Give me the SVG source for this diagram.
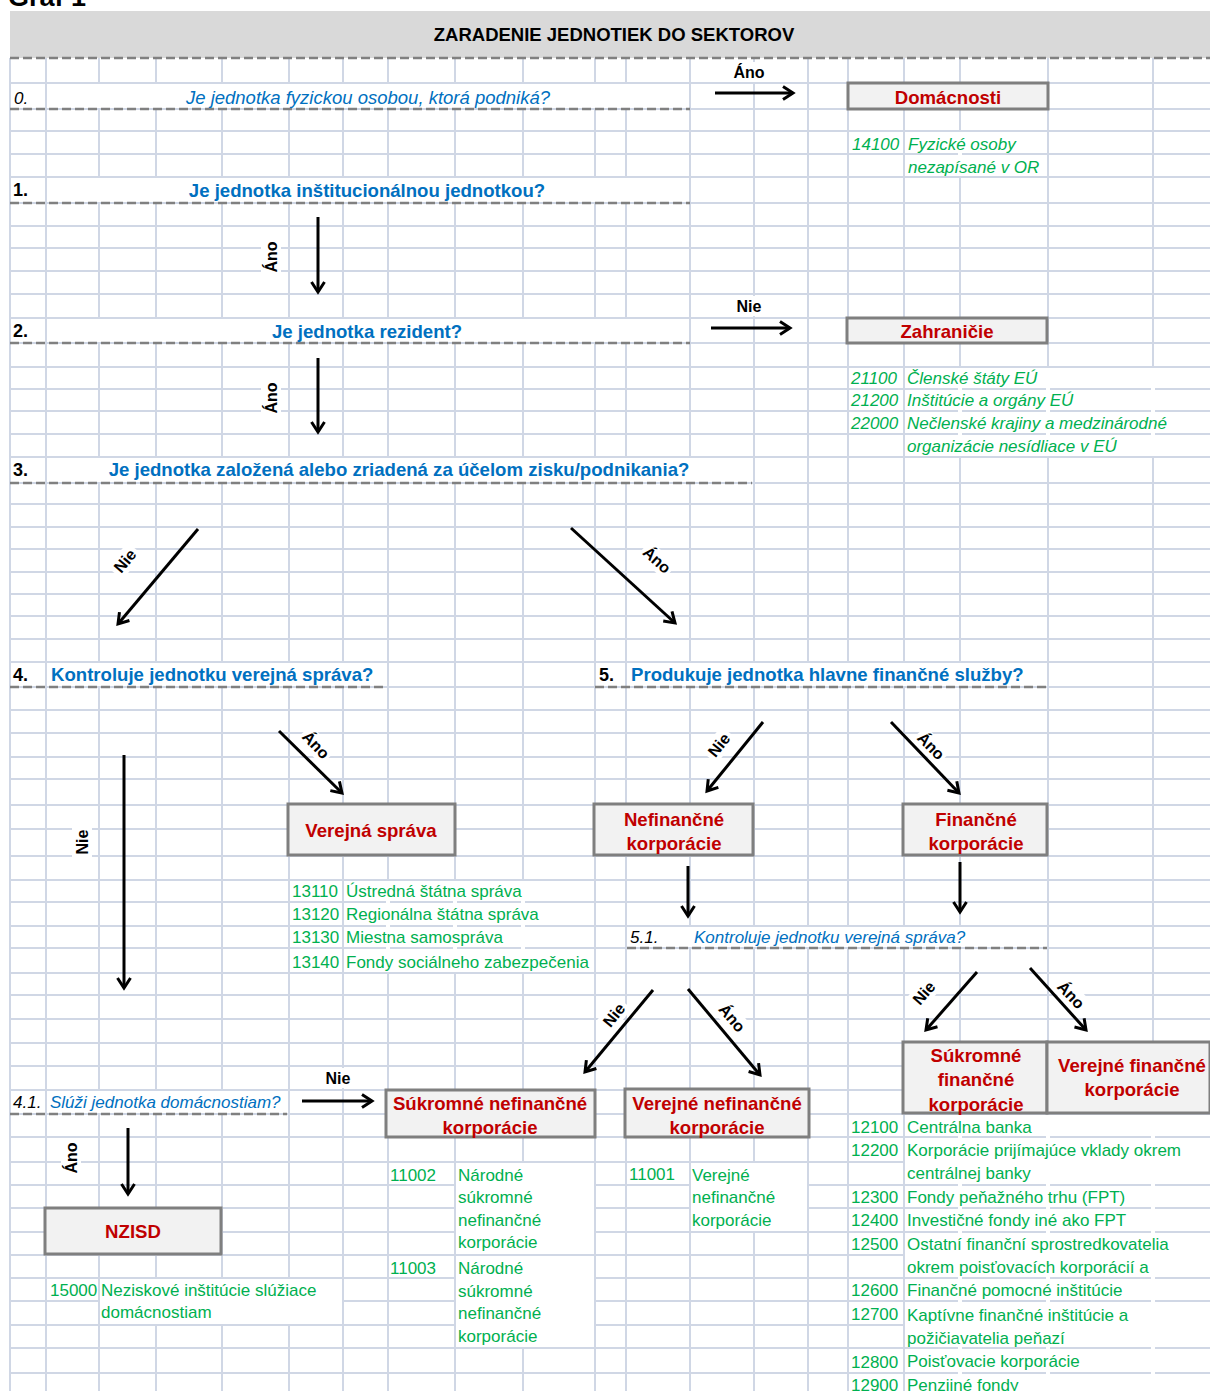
<svg xmlns="http://www.w3.org/2000/svg" width="1210" height="1391" viewBox="0 0 1210 1391">
<defs>
<style>
text{font-family:"Liberation Sans",Arial,sans-serif}
.ttl{font-size:27px;font-weight:bold;fill:#000}
.hdr{font-size:18.5px;font-weight:bold;fill:#000;text-anchor:middle}
.qn{font-size:18px;font-weight:bold;fill:#000}
.qi{font-size:17px;font-style:italic;fill:#000}
.qb{font-size:18.6px;font-weight:bold;fill:#0070c0}
.qbi{font-size:18.5px;font-style:italic;fill:#0070c0}
.qsi{font-size:17px;font-style:italic;fill:#0070c0}
.lbl{font-size:16px;font-weight:bold;fill:#000;text-anchor:middle}
.box{fill:#f2f2f2;stroke:#7f7f7f;stroke-width:3}
.bt{font-size:18.6px;font-weight:bold;fill:#c00000;text-anchor:middle}
.g{font-size:17px;fill:#00b050}
.gi{font-size:17px;font-style:italic;fill:#00b050}
.dash{stroke:#808080;stroke-width:2.5;stroke-dasharray:9 4;fill:none}
.arr{stroke:#000;stroke-width:3;fill:none;marker-end:url(#ah)}
.mask{fill:#fff}
.grid{stroke:#d0d7e5;stroke-width:2;fill:none}
</style>
<marker id="ah" markerUnits="userSpaceOnUse" markerWidth="16" markerHeight="16" viewBox="0 0 16 16" refX="13" refY="8" orient="auto">
<path d="M3,1.5 L13,8 L3,14.5" fill="none" stroke="#000" stroke-width="3"/>
</marker>
</defs>
<rect width="1210" height="1391" fill="#fff"/>
<text class="ttl" x="8" y="6">Graf 1</text>
<g id="grid">
<path class="grid" d="M10,83H1210M10,109H1210M10,131H1210M10,154H1210M10,177H1210M10,203H1210M10,226H1210M10,248H1210M10,271H1210M10,294H1210M10,318H1210M10,343H1210M10,367H1210M10,389H1210M10,411H1210M10,434H1210M10,457H1210M10,483H1210M10,504H1210M10,527H1210M10,549H1210M10,572H1210M10,594H1210M10,616H1210M10,639H1210M10,662H1210M10,687H1210M10,710H1210M10,733H1210M10,757H1210M10,779H1210M10,805H1210M10,829H1210M10,856H1210M10,880H1210M10,902H1210M10,926H1210M10,948H1210M10,973H1210M10,995H1210M10,1019H1210M10,1043H1210M10,1066H1210M10,1090H1210M10,1114H1210M10,1137H1210M10,1162H1210M10,1185H1210M10,1208H1210M10,1232H1210M10,1255H1210M10,1278H1210M10,1301H1210M10,1325H1210M10,1348H1210M10,1373H1210"/>
<path class="grid" d="M10,58V1391M46,58V1391M99,58V1391M156,58V1391M222,58V1391M289,58V1391M343,58V1391M388,58V1391M455,58V1391M523,58V1391M595,58V1391M626,58V1391M690,58V1391M754,58V1391M808,58V1391M848,58V1391M904,58V1391M960,58V1391M1048,58V1391M1153,58V1391"/>
<g class="mask">
<rect x="47" y="84" width="642" height="24"/>
<rect x="47" y="178" width="642" height="24"/>
<rect x="47" y="319" width="642" height="23"/>
<rect x="47" y="458" width="706" height="24"/>
<rect x="47" y="663" width="340" height="23"/>
<rect x="627" y="663" width="420" height="23"/>
<rect x="627" y="927" width="420" height="20"/>
<rect x="47" y="1091" width="241" height="22"/>
<rect x="958" y="132" width="4" height="44"/>
<rect x="958" y="368" width="4" height="88"/>
<rect x="1046" y="368" width="4" height="88"/>
<rect x="1151" y="368" width="4" height="88"/>
<rect x="386" y="881" width="4" height="91"/>
<rect x="453" y="881" width="4" height="91"/>
<rect x="521" y="881" width="4" height="91"/>
<rect x="100" y="1279" width="242" height="45"/>
<rect x="456" y="1163" width="138" height="91"/>
<rect x="456" y="1256" width="138" height="91"/>
<rect x="691" y="1163" width="116" height="68"/>
<rect x="958" y="1115" width="4" height="276"/>
<rect x="1046" y="1115" width="4" height="276"/>
<rect x="1151" y="1115" width="4" height="276"/>
<rect x="905" y="1160" width="305" height="4"/>
<rect x="905" y="1253" width="305" height="4"/>
<rect x="905" y="1323" width="305" height="4"/>
</g>
</g>
<g id="header">
<rect x="10" y="11" width="1200" height="47" fill="#d9d9d9"/>
<text class="hdr" x="614" y="41">ZARADENIE JEDNOTIEK DO SEKTOROV</text>
</g>
<g id="dashes">
<path class="dash" d="M10,58H1210M10,109H690M10,203H690M10,343H690M10,483H752M10,687H387M595,687H1047M627,948H1047M10,1114H287"/>
</g>
<g id="q0">
<text class="qi" x="14" y="104">0.</text>
<text class="qbi" x="368" y="103.5" text-anchor="middle">Je jednotka fyzickou osobou, ktorá podniká?</text>
</g>
<g id="q1">
<text class="qn" x="13" y="196">1.</text>
<text class="qb" x="367" y="196.5" text-anchor="middle">Je jednotka inštitucionálnou jednotkou?</text>
</g>
<g id="q2">
<text class="qn" x="13" y="337">2.</text>
<text class="qb" x="367" y="337.5" text-anchor="middle">Je jednotka rezident?</text>
</g>
<g id="q3">
<text class="qn" x="13" y="476">3.</text>
<text class="qb" x="399" y="476" text-anchor="middle">Je jednotka založená alebo zriadená za účelom zisku/podnikania?</text>
</g>
<g id="q4">
<text class="qn" x="13" y="681">4.</text>
<text class="qb" x="51" y="681">Kontroluje jednotku verejná správa?</text>
</g>
<g id="q5">
<text class="qn" x="599" y="681">5.</text>
<text class="qb" x="631" y="681">Produkuje jednotka hlavne finančné služby?</text>
</g>
<g id="q51">
<text class="qi" x="630" y="943">5.1.</text>
<text class="qsi" x="694" y="943">Kontroluje jednotku verejná správa?</text>
</g>
<g id="q41">
<text class="qi" x="13" y="1108">4.1.</text>
<text class="qsi" x="50" y="1108">Slúži jednotka domácnostiam?</text>
</g>
<g id="domacnosti">
<rect class="box" x="848" y="83" width="200" height="26"/>
<text class="bt" x="948" y="103.5">Domácnosti</text>
<text class="gi" x="852" y="150">14100</text>
<text class="gi" x="908" y="150">Fyzické osoby</text>
<text class="gi" x="908" y="173">nezapísané v OR</text>
</g>
<g id="zahranicie">
<rect class="box" x="847" y="318" width="200" height="25"/>
<text class="bt" x="947" y="337.5">Zahraničie</text>
<text class="gi" x="851" y="384">21100</text>
<text class="gi" x="907" y="384">Členské štáty EÚ</text>
<text class="gi" x="851" y="406">21200</text>
<text class="gi" x="907" y="406">Inštitúcie a orgány EÚ</text>
<text class="gi" x="851" y="429">22000</text>
<text class="gi" x="907" y="429">Nečlenské krajiny a medzinárodné</text>
<text class="gi" x="907" y="452">organizácie nesídliace v EÚ</text>
</g>
<g id="verejna-sprava">
<rect class="box" x="288" y="804" width="167" height="51"/>
<text class="bt" x="371" y="836.5">Verejná správa</text>
<text class="g" x="292" y="897">13110</text>
<text class="g" x="346" y="897">Ústredná štátna správa</text>
<text class="g" x="292" y="920">13120</text>
<text class="g" x="346" y="920">Regionálna štátna správa</text>
<text class="g" x="292" y="943">13130</text>
<text class="g" x="346" y="943">Miestna samospráva</text>
<text class="g" x="292" y="968">13140</text>
<text class="g" x="346" y="968">Fondy sociálneho zabezpečenia</text>
</g>
<g id="nefinancne">
<rect class="box" x="594" y="804" width="159" height="51"/>
<text class="bt" x="674" y="825.5">Nefinančné</text>
<text class="bt" x="674" y="849.5">korporácie</text>
</g>
<g id="financne">
<rect class="box" x="903" y="804" width="144" height="51"/>
<text class="bt" x="976" y="825.5">Finančné</text>
<text class="bt" x="976" y="849.5">korporácie</text>
</g>
<g id="sukromne-financne">
<rect class="box" x="903" y="1042" width="144" height="71"/>
<text class="bt" x="976" y="1061.5">Súkromné</text>
<text class="bt" x="976" y="1085.5">finančné</text>
<text class="bt" x="976" y="1110.5">korporácie</text>
</g>
<g id="verejne-financne">
<rect class="box" x="1047" y="1042" width="163" height="71"/>
<text class="bt" x="1132" y="1071.5">Verejné finančné</text>
<text class="bt" x="1132" y="1096">korporácie</text>
</g>
<g id="financne-zoznam">
<text class="g" x="851" y="1133">12100</text><text class="g" x="907" y="1133">Centrálna banka</text>
<text class="g" x="851" y="1156">12200</text><text class="g" x="907" y="1156">Korporácie prijímajúce vklady okrem</text>
<text class="g" x="907" y="1179">centrálnej banky</text>
<text class="g" x="851" y="1203">12300</text><text class="g" x="907" y="1203">Fondy peňažného trhu (FPT)</text>
<text class="g" x="851" y="1226">12400</text><text class="g" x="907" y="1226">Investičné fondy iné ako FPT</text>
<text class="g" x="851" y="1250">12500</text><text class="g" x="907" y="1250">Ostatní finanční sprostredkovatelia</text>
<text class="g" x="907" y="1273">okrem poisťovacích korporácií a</text>
<text class="g" x="851" y="1296">12600</text><text class="g" x="907" y="1296">Finančné pomocné inštitúcie</text>
<text class="g" x="851" y="1320">12700</text><text class="g" x="907" y="1321">Kaptívne finančné inštitúcie a</text>
<text class="g" x="907" y="1344">požičiavatelia peňazí</text>
<text class="g" x="851" y="1368">12800</text><text class="g" x="907" y="1367">Poisťovacie korporácie</text>
<text class="g" x="851" y="1391">12900</text><text class="g" x="907" y="1391">Penzijné fondy</text>
</g>
<g id="sukromne-nefinancne">
<rect class="box" x="386" y="1090" width="209" height="47"/>
<text class="bt" x="490" y="1109.5">Súkromné nefinančné</text>
<text class="bt" x="490" y="1133.5">korporácie</text>
<text class="g" x="390" y="1181">11002</text>
<text class="g" x="458" y="1181">Národné</text>
<text class="g" x="458" y="1203">súkromné</text>
<text class="g" x="458" y="1226">nefinančné</text>
<text class="g" x="458" y="1248">korporácie</text>
<text class="g" x="390" y="1274">11003</text>
<text class="g" x="458" y="1274">Národné</text>
<text class="g" x="458" y="1297">súkromné</text>
<text class="g" x="458" y="1319">nefinančné</text>
<text class="g" x="458" y="1342">korporácie</text>
</g>
<g id="verejne-nefinancne">
<rect class="box" x="625" y="1089" width="184" height="48"/>
<text class="bt" x="717" y="1109.5">Verejné nefinančné</text>
<text class="bt" x="717" y="1133.5">korporácie</text>
<text class="g" x="629" y="1180">11001</text>
<text class="g" x="692" y="1181">Verejné</text>
<text class="g" x="692" y="1203">nefinančné</text>
<text class="g" x="692" y="1226">korporácie</text>
</g>
<g id="nzisd">
<rect class="box" x="45" y="1208" width="176" height="46"/>
<text class="bt" x="133" y="1237.5">NZISD</text>
<text class="g" x="50" y="1296">15000</text>
<text class="g" x="101" y="1296">Neziskové inštitúcie slúžiace</text>
<text class="g" x="101" y="1318">domácnostiam</text>
</g>
<g id="connectors">
<path class="arr" d="M715,93H793"/>
<path class="arr" d="M318,217V292"/>
<path class="arr" d="M711,328H790"/>
<path class="arr" d="M318,358V432"/>
<path class="arr" d="M198,529L118,624"/>
<path class="arr" d="M571,528L675,623"/>
<path class="arr" d="M279,731L342,793"/>
<path class="arr" d="M124,755V988"/>
<path class="arr" d="M763,722L707,791"/>
<path class="arr" d="M891,722L959,793"/>
<path class="arr" d="M688,866V916"/>
<path class="arr" d="M960,862V912"/>
<path class="arr" d="M653,990L585,1072"/>
<path class="arr" d="M688,989L760,1075"/>
<path class="arr" d="M977,972L926,1030"/>
<path class="arr" d="M1030,968L1086,1030"/>
<path class="arr" d="M302,1101H372"/>
<path class="arr" d="M128,1128V1194"/>
<g transform="translate(749,72)"><rect class="mask" x="-17" y="-10" width="34" height="20"/><text class="lbl" y="5.5">Áno</text></g>
<g transform="translate(271,257) rotate(-90)"><rect class="mask" x="-19" y="-10" width="38" height="20"/><text class="lbl" y="5.5">Áno</text></g>
<g transform="translate(749,306)"><rect class="mask" x="-16" y="-10" width="32" height="20"/><text class="lbl" y="5.5">Nie</text></g>
<g transform="translate(271,398) rotate(-90)"><rect class="mask" x="-19" y="-10" width="38" height="20"/><text class="lbl" y="5.5">Áno</text></g>
<g transform="translate(125,561) rotate(-50)"><rect class="mask" x="-16" y="-10" width="32" height="20"/><text class="lbl" y="5.5">Nie</text></g>
<g transform="translate(657,560) rotate(42)"><rect class="mask" x="-18" y="-10" width="36" height="20"/><text class="lbl" y="5.5">Áno</text></g>
<g transform="translate(316,745) rotate(47)"><rect class="mask" x="-18" y="-10" width="36" height="20"/><text class="lbl" y="5.5">Áno</text></g>
<g transform="translate(82,842) rotate(-90)"><rect class="mask" x="-16" y="-10" width="32" height="20"/><text class="lbl" y="5.5">Nie</text></g>
<g transform="translate(719,745) rotate(-51)"><rect class="mask" x="-16" y="-10" width="32" height="20"/><text class="lbl" y="5.5">Nie</text></g>
<g transform="translate(931,746) rotate(46)"><rect class="mask" x="-18" y="-10" width="36" height="20"/><text class="lbl" y="5.5">Áno</text></g>
<g transform="translate(614,1015) rotate(-51)"><rect class="mask" x="-16" y="-10" width="32" height="20"/><text class="lbl" y="5.5">Nie</text></g>
<g transform="translate(732,1018) rotate(50)"><rect class="mask" x="-18" y="-10" width="36" height="20"/><text class="lbl" y="5.5">Áno</text></g>
<g transform="translate(924,993) rotate(-49)"><rect class="mask" x="-16" y="-10" width="32" height="20"/><text class="lbl" y="5.5">Nie</text></g>
<g transform="translate(1071,995) rotate(47)"><rect class="mask" x="-18" y="-10" width="36" height="20"/><text class="lbl" y="5.5">Áno</text></g>
<g transform="translate(338,1078)"><rect class="mask" x="-16" y="-10" width="32" height="20"/><text class="lbl" y="5.5">Nie</text></g>
<g transform="translate(71,1158) rotate(-90)"><rect class="mask" x="-19" y="-10" width="38" height="20"/><text class="lbl" y="5.5">Áno</text></g>
</g>
</svg>
